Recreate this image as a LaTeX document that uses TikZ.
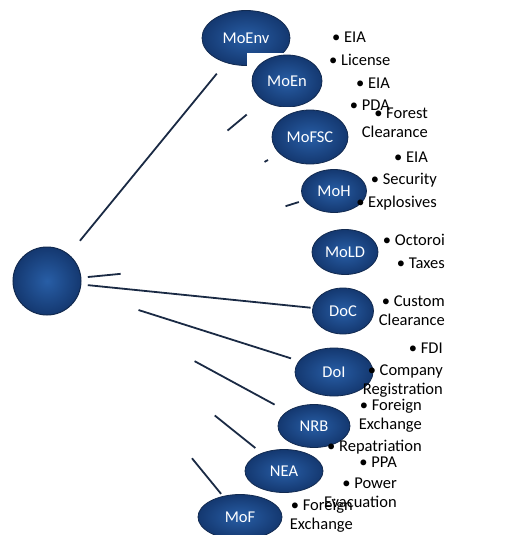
\documentclass[tikz,border=0pt]{standalone}
\usepackage{fontspec}
\setmainfont{Carlito}
\usetikzlibrary{calc, shapes.geometric}

\definecolor{navy}{RGB}{26,42,68}
\definecolor{ballin}{RGB}{40,94,166}
\definecolor{ballout}{RGB}{20,56,112}
\definecolor{rim}{RGB}{18,42,80}

\begin{document}
\begin{tikzpicture}[
    x = 1pt, y = -1pt,
    link/.style = {draw = navy,
      line width = 1.8pt},
    office/.style = {ellipse, draw = rim,
      line width = 0.8pt,
      inner color = ballin, outer color = ballout,
      text = white, inner sep = 0pt,
      font = \fontsize{16.5}{20}\selectfont},
    hub/.style = {circle, draw = rim,
      line width = 1pt,
      inner color = ballin, outer color = ballout,
      minimum size = {68pt}},
    duty/.style = {inner sep = 0pt,
      font = \fontsize{16.5}{19}\selectfont},
    right duty/.style = {duty, align = right, anchor = east},
    left duty/.style = {duty, align = left, anchor = west},
    ]

    \useasboundingbox (0, 0) rectangle (507, 535);

    \node at (47, 281) [hub, name = core] {};

    \node at (246, 38)
    [office, minimum width = 88, minimum height = 55, name = MoEnv] {MoEnv};

    \fill [white] (247, 53) rectangle (330, 112);
    \node at (287, 81)
    [office, minimum width = 70, minimum height = 52, name = MoEn] {MoEn};

    \fill [white] (267, 107) rectangle (360, 168);
    \node at (310, 137)
    [office, minimum width = 76, minimum height = 54, name = MoFSC] {MoFSC};

    \node at (334, 191)
    [office, minimum width = 65, minimum height = 43, name = MoH] {MoH};

    \node at (345, 252)
    [office, minimum width = 66, minimum height = 45, name = MoLD] {MoLD};

    \node at (343, 311)
    [office, minimum width = 61, minimum height = 46, name = DoC] {DoC};

    \node at (334, 372)
    [office, minimum width = 78, minimum height = 48, name = DoI] {DoI};

    \node at (314, 426)
    [office, minimum width = 72, minimum height = 43, name = NRB] {NRB};

    \node at (284, 471)
    [office, minimum width = 78, minimum height = 43, name = NEA] {NEA};

    \fill [white] (195, 493) rectangle (287, 535);
    \node at (240, 517)
    [office, minimum width = 84, minimum height = 45, name = MoF] {MoF};

    % only the parts of the spokes that show
    \draw [link] ($(core)!52pt!(MoEnv)$) -- ($(core)!268pt!(MoEnv)$);
    \draw [link] ($(core)!235pt!(MoEn)$) -- ($(core)!260pt!(MoEn)$);
    \draw [link] ($(core)!248pt!(MoFSC)$) -- ($(core)!252pt!(MoFSC)$);
    \draw [link] ($(core)!250pt!(MoH)$) -- ($(core)!264pt!(MoH)$);
    \draw [link] ($(core)!41pt!(MoLD)$) -- ($(core)!74pt!(MoLD)$);
    \draw [link] ($(core)!41pt!(DoC)$) -- ($(core)!265pt!(DoC)$);
    \draw [link] ($(core)!96pt!(DoI)$) -- ($(core)!256pt!(DoI)$);
    \draw [link] ($(core)!168pt!(NRB)$) -- ($(core)!259pt!(NRB)$);
    \draw [link] ($(core)!215pt!(NEA)$) -- ($(core)!267pt!(NEA)$);
    \draw [link] ($(core)!229pt!(MoF)$) -- ($(core)!275pt!(MoF)$);

    \node at (332, 37) [left duty, name = MoEnv_eia] {• EIA};
    \node at (329, 60) [left duty, name = MoEnv_lic] {• License};

    \node at (390, 83) [right duty, name = MoEn_eia] {• EIA};
    \node at (390, 105) [right duty, name = MoEn_pda] {• PDA};

    \node at (428, 123) [right duty, name = MoFSC_for] {• Forest\\Clearance};
    \node at (428, 157) [right duty, name = MoFSC_eia] {• EIA};

    \node at (437, 180) [right duty, name = MoH_sec] {• Security};
    \node at (437, 203) [right duty, name = MoH_exp] {• Explosives};

    \node at (445, 240) [right duty, name = MoLD_oct] {• Octoroi};
    \node at (445, 263) [right duty, name = MoLD_tax] {• Taxes};

    \node at (445, 311) [right duty, name = DoC_cus] {• Custom\\Clearance};

    \node at (443, 348) [right duty, name = DoI_fdi] {• FDI};
    \node at (443, 381) [right duty, name = DoI_com] {• Company\\Registration};

    \node at (422, 416) [right duty, name = NRB_for] {• Foreign\\Exchange};
    \node at (422, 447) [right duty, name = NRB_rep] {• Repatriation};

    \node at (397, 462) [right duty, name = NEA_ppa] {• PPA};
    \node at (397, 493) [right duty, name = NEA_pow] {• Power\\Evacuation};

    \node at (353, 516) [right duty, name = MoF_for] {• Foreign\\Exchange};
  \end{tikzpicture}
\end{document}
